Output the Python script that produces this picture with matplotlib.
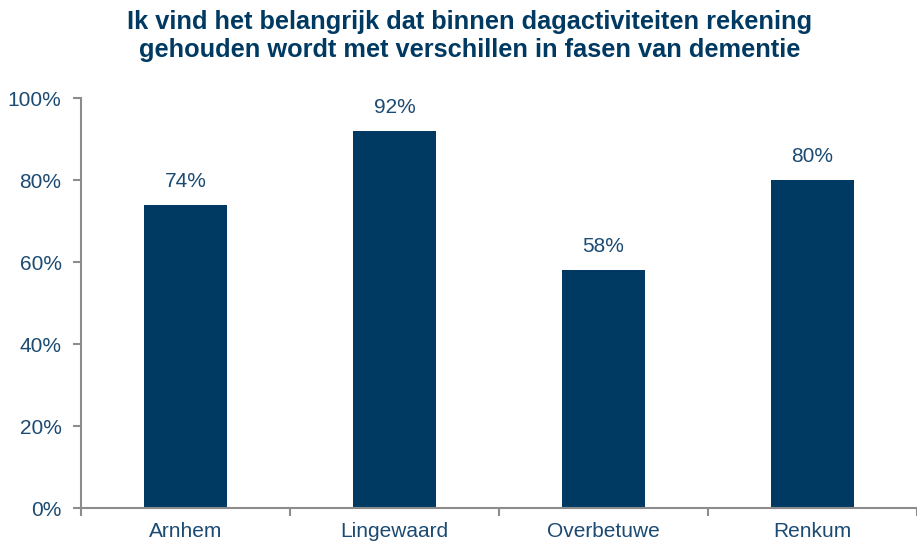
import numpy as np
import matplotlib.pyplot as plt

plt.rcParams['font.family'] = ['Liberation Sans', 'DejaVu Sans']

gemeenten = ['Arnhem', 'Lingewaard', 'Overbetuwe', 'Renkum']
percentages = [74, 92, 58, 80]

bar_color = '#003A63'
text_color = '#1B4A72'
axis_color = '#8C8C8C'

fig = plt.figure(figsize=(9.17, 5.44), dpi=100)
ax = fig.add_axes([81/917, 1-508/544, 836/917, 410/544])

x = np.arange(len(gemeenten))
ax.bar(x, percentages, width=0.4, color=bar_color)

for xi, v in zip(x, percentages):
    ax.annotate(f'{v}%', (xi, v), xytext=(0, 10), textcoords='offset points',
                ha='center', va='bottom', fontsize=15, color=text_color)

ax.set_xlim(-0.5, len(gemeenten) - 0.5)
ax.set_ylim(0, 100)
ax.set_yticks(np.arange(0, 101, 20))
ax.set_yticklabels([f'{t}%' for t in range(0, 101, 20)])

ax.set_xticks(x)
ax.set_xticklabels(gemeenten)
ax.set_xticks(np.arange(-0.5, len(gemeenten)), minor=True)
ax.tick_params(axis='x', which='major', length=0, pad=10, labelsize=15, labelcolor=text_color)
ax.tick_params(axis='x', which='minor', length=6, width=1.5, color=axis_color, direction='out')
ax.tick_params(axis='y', length=6, width=1.5, color=axis_color, direction='out', pad=8,
               labelsize=15, labelcolor=text_color)

for side in ['top', 'right']:
    ax.spines[side].set_visible(False)
for side in ['left', 'bottom']:
    ax.spines[side].set_color(axis_color)
    ax.spines[side].set_linewidth(1.5)

fig.text(470/917, 1-36/544, 'Ik vind het belangrijk dat binnen dagactiviteiten rekening\n'
         'gehouden wordt met verschillen in fasen van dementie',
         ha='center', va='center', fontsize=18.3, fontweight='bold', color=bar_color,
         linespacing=1.25)

fig.savefig('out.png', dpi=100)
